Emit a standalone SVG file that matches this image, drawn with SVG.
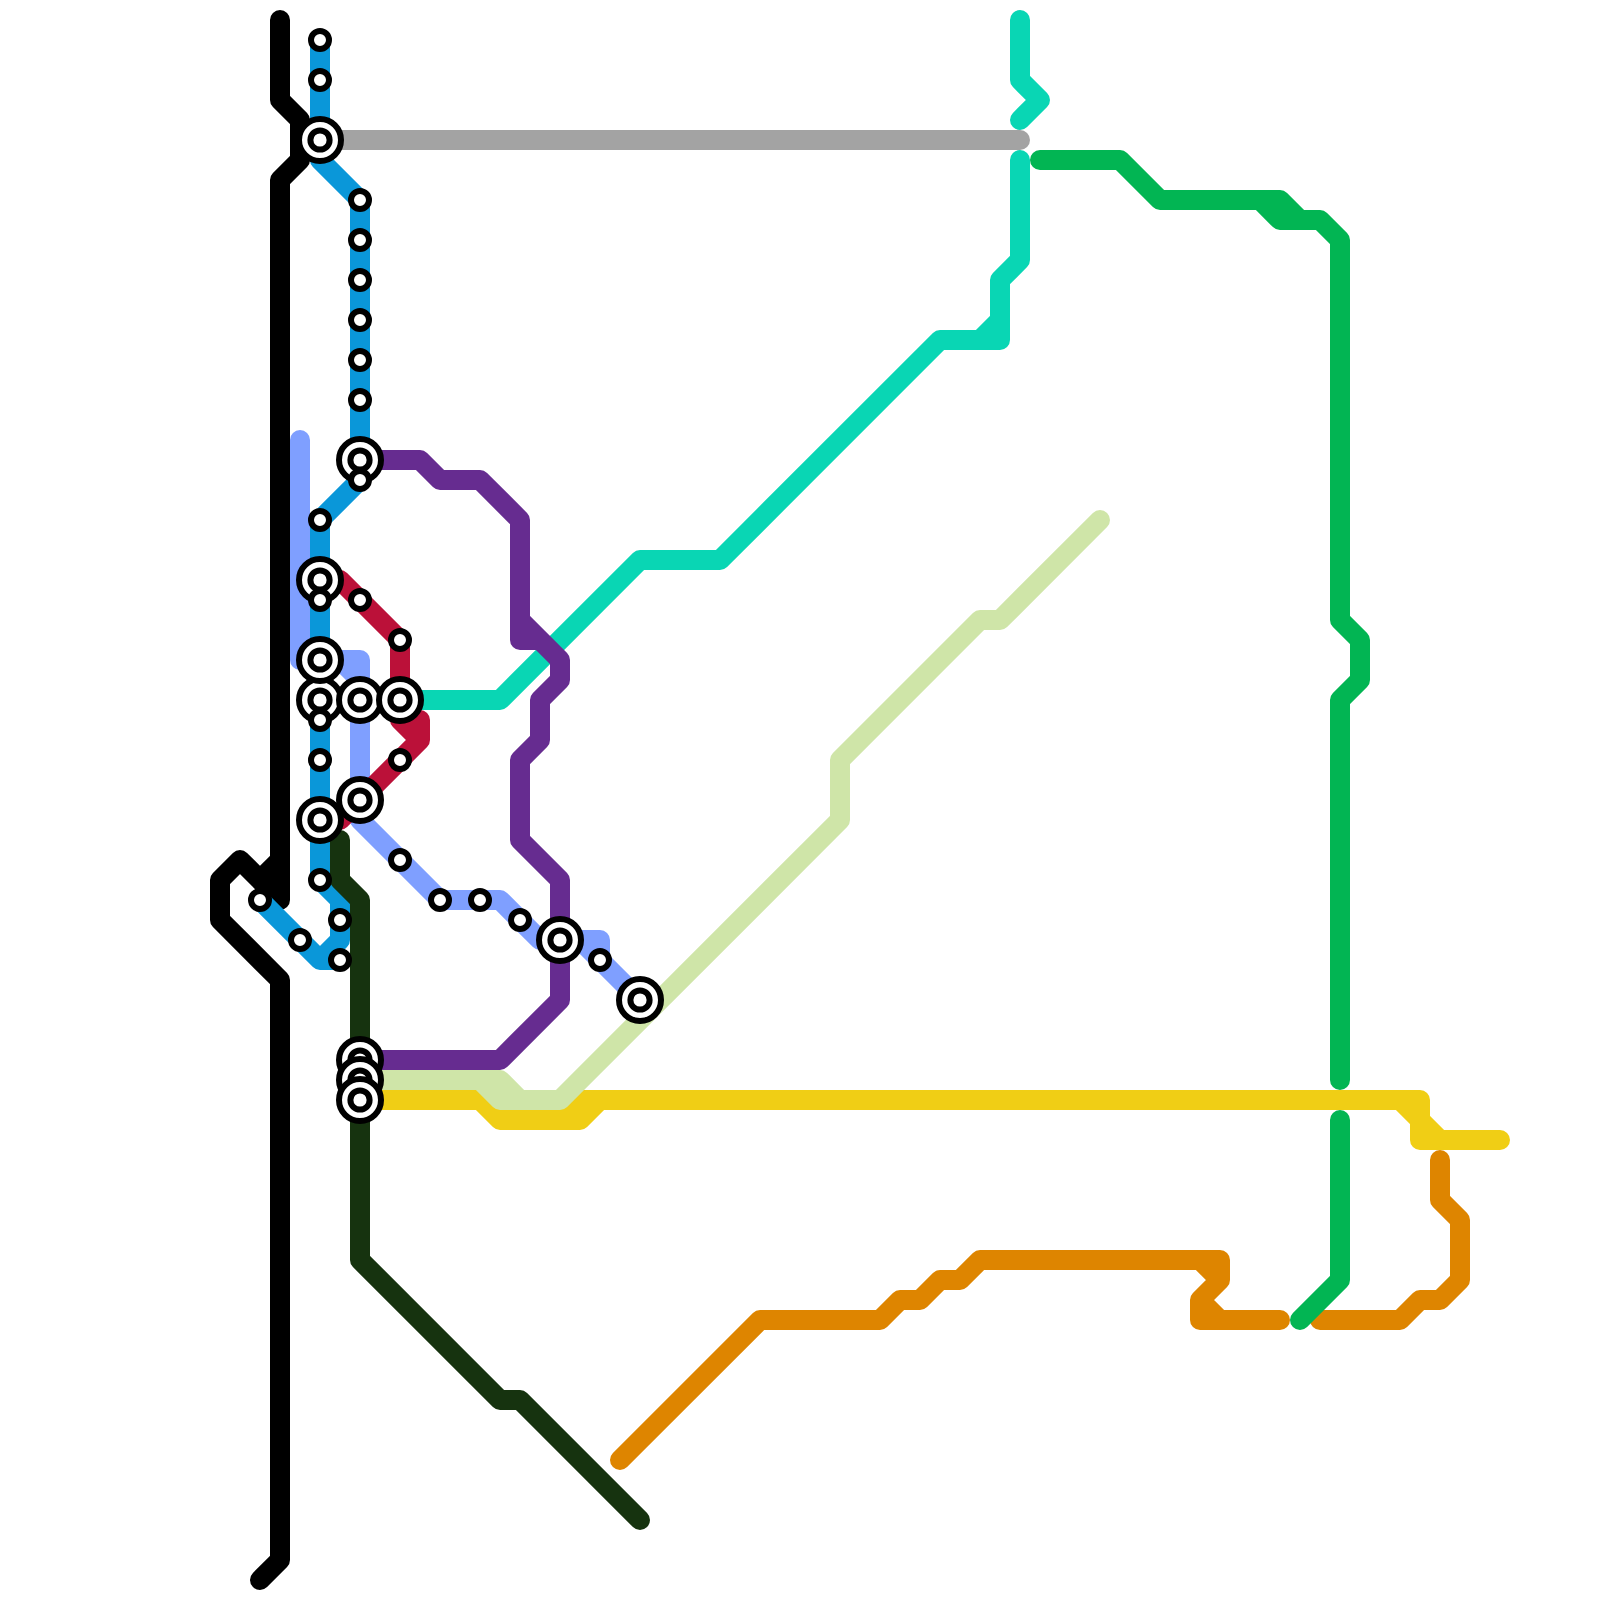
<svg xmlns="http://www.w3.org/2000/svg" width="1600" height="1600" viewBox="0 0 1600 1600">
<defs>
<style>
.l{fill:none;stroke-width:20;stroke-linecap:round;stroke-linejoin:round}
.s{fill:#fff;stroke:#000;stroke-width:6}
</style>
<g id="st"><circle class="s" r="9"/></g>
<g id="ic"><circle class="s" r="21"/><circle class="s" r="9.6"/></g>
</defs>
<rect width="1600" height="1600" fill="#fff"/>
<g id="connectors">
<path class="l" stroke="#a3a3a3" d="M320 140H1020"/>
<path class="l" stroke="#09d6b4" d="M1020 20V80L1040 100L1020 120"/>
<path class="l" stroke="#09d6b4" d="M1020 160V260L1000 280V340H940L720 560H640L500 700H400M1000 320L980 340"/>
<path class="l" stroke="#000" d="M280 20V100L300 120V160L280 180V860L260 880L240 860L220 880V920L280 980V1560L260 1580M280 860V900L260 880"/>
<path class="l" stroke="#7f9fff" d="M300 440V660H360V820L440 900H500L540 940H600V960L640 1000M340 660L360 680M580 940L600 960"/>
<path class="l" stroke="#0a97d9" d="M320 40V160L360 200V480L320 520V880L340 900V940L320 960L260 900M320 960H340"/>
<path class="l" stroke="#bb1139" d="M320 580H340L400 640V720H420V740L340 820H320M400 720L420 740"/>
<path class="l" stroke="#16330f" d="M340 840V880L360 900V1260L500 1400H520L640 1520"/>
<path class="l" stroke="#f0ce15" d="M360 1100H480L500 1120H580L600 1100H1420V1140H1500M1400 1100L1420 1120L1440 1140M560 1100H600"/>
<path class="l" stroke="#cfe5a8" d="M360 1080H500L520 1100H560L840 820V760L980 620H1000L1100 520M480 1080L500 1100H520"/>
<path class="l" stroke="#662c90" d="M360 460H420L440 480H480L520 520V640H540L560 660V680L540 700V740L520 760V840L560 880V1000L500 1060H360M520 620L560 660"/>
<path class="l" stroke="#de8500" d="M620 1460L760 1320H880L900 1300H920L940 1280H960L980 1260H1220V1280L1200 1300V1320H1280M1200 1260L1220 1280M1200 1300L1220 1320"/>
<path class="l" stroke="#de8500" d="M1320 1320H1400L1420 1300H1440L1460 1280V1220L1440 1200V1160"/>
<path class="l" stroke="#02b553" d="M1040 160H1120L1160 200H1280L1300 220H1320L1340 240V620L1360 640V680L1340 700V1080M1260 200L1280 220H1300"/>
<path class="l" stroke="#02b553" d="M1340 1120V1280L1300 1320"/>
</g>
<g id="n1"><use href="#ic" x="320" y="140"/></g>
<g id="n2"><use href="#ic" x="360" y="460"/></g>
<g id="n3"><use href="#ic" x="320" y="580"/></g>
<g id="n4"><use href="#ic" x="320" y="700"/></g>
<g id="n5"><use href="#ic" x="320" y="660"/></g>
<g id="n6"><use href="#ic" x="360" y="700"/></g>
<g id="n7"><use href="#ic" x="400" y="700"/></g>
<g id="n8"><use href="#ic" x="320" y="820"/></g>
<g id="n9"><use href="#ic" x="360" y="800"/></g>
<g id="n10"><use href="#ic" x="560" y="940"/></g>
<g id="n11"><use href="#ic" x="640" y="1000"/></g>
<g id="n12"><use href="#ic" x="360" y="1060"/></g>
<g id="n13"><use href="#ic" x="360" y="1080"/></g>
<g id="n14"><use href="#ic" x="360" y="1100"/></g>
<g id="n15"><use href="#st" x="320" y="40"/></g>
<g id="n16"><use href="#st" x="320" y="80"/></g>
<g id="n17"><use href="#st" x="360" y="200"/></g>
<g id="n18"><use href="#st" x="360" y="240"/></g>
<g id="n19"><use href="#st" x="360" y="280"/></g>
<g id="n20"><use href="#st" x="360" y="320"/></g>
<g id="n21"><use href="#st" x="360" y="360"/></g>
<g id="n22"><use href="#st" x="360" y="400"/></g>
<g id="n23"><use href="#st" x="360" y="480"/></g>
<g id="n24"><use href="#st" x="320" y="520"/></g>
<g id="n25"><use href="#st" x="320" y="600"/></g>
<g id="n26"><use href="#st" x="360" y="600"/></g>
<g id="n27"><use href="#st" x="400" y="640"/></g>
<g id="n28"><use href="#st" x="320" y="720"/></g>
<g id="n29"><use href="#st" x="320" y="760"/></g>
<g id="n30"><use href="#st" x="400" y="760"/></g>
<g id="n31"><use href="#st" x="400" y="860"/></g>
<g id="n32"><use href="#st" x="320" y="880"/></g>
<g id="n33"><use href="#st" x="260" y="900"/></g>
<g id="n34"><use href="#st" x="300" y="940"/></g>
<g id="n35"><use href="#st" x="340" y="920"/></g>
<g id="n36"><use href="#st" x="340" y="960"/></g>
<g id="n37"><use href="#st" x="440" y="900"/></g>
<g id="n38"><use href="#st" x="480" y="900"/></g>
<g id="n39"><use href="#st" x="520" y="920"/></g>
<g id="n40"><use href="#st" x="600" y="960"/></g>
</svg>
